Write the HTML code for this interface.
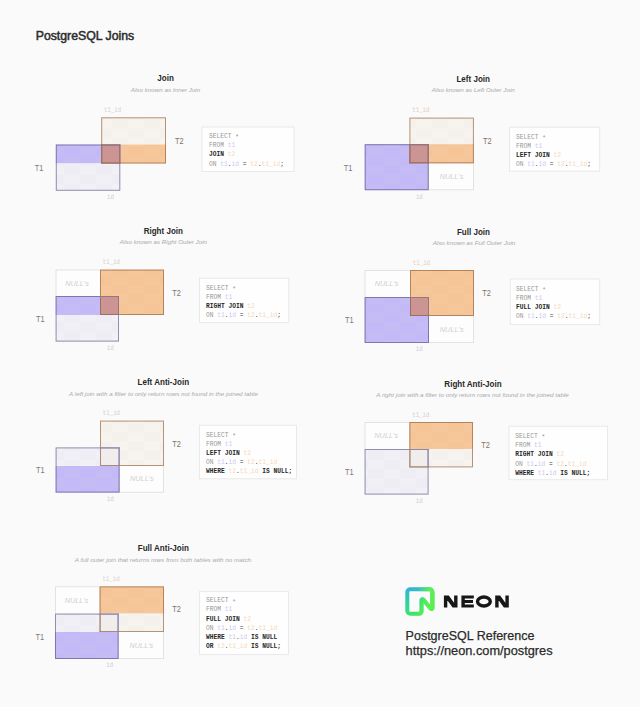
<!DOCTYPE html>
<html><head><meta charset="utf-8"><title>PostgreSQL Joins</title>
<style>
html,body{margin:0;padding:0;background:#fafafa;}
body{width:640px;height:707px;overflow:hidden;}
svg{display:block;}
text{font-family:"Liberation Sans",sans-serif;}
.h{font-weight:bold;font-size:9.1px;fill:#272727;text-anchor:middle;}
.s{font-style:italic;font-size:6.25px;fill:#a9a9a9;text-anchor:middle;}
.c{font-family:"Liberation Mono",monospace;font-size:6.25px;white-space:pre;}
.k{fill:#979797;}.b{fill:#262626;font-weight:bold;}.p{fill:#cdc8f2;}.o{fill:#f5d9bb;}.d{fill:#3a3a3a;}
.l{font-family:"Liberation Mono",monospace;font-size:5.75px;fill:#cdcdcd;}
.lo{fill:#dccfc3;}.lp{fill:#cdcbdc;}
.n{font-style:italic;font-size:7.3px;fill:#d0d0d0;text-anchor:middle;}
.t1{font-size:8.6px;fill:#7a7984;}
.t2{font-size:8.6px;fill:#7e7266;}
</style></head><body>
<svg width="640" height="707" viewBox="0 0 640 707">
<defs>
<linearGradient id="ng" x1="0" y1="0" x2="0.25" y2="1"><stop offset="0" stop-color="#34aee0"/><stop offset="0.5" stop-color="#2fd0a4"/><stop offset="1" stop-color="#3fe468"/></linearGradient>
<linearGradient id="ng2" x1="0" y1="0" x2="1" y2="0.15"><stop offset="0.4" stop-color="#5cf04c" stop-opacity="0"/><stop offset="0.85" stop-color="#5cf04c" stop-opacity="1"/></linearGradient>
<pattern id="ck" width="32" height="18.4" patternUnits="userSpaceOnUse"><rect x="0" y="0" width="16" height="9.2" fill="#000" fill-opacity="0.012"/><rect x="16" y="9.2" width="16" height="9.2" fill="#000" fill-opacity="0.012"/></pattern>
<pattern id="ckw" width="32" height="18.4" patternUnits="userSpaceOnUse"><rect x="16" y="0" width="16" height="9.2" fill="#fff" fill-opacity="0.04"/><rect x="0" y="9.2" width="16" height="9.2" fill="#fff" fill-opacity="0.04"/></pattern>
</defs>
<rect width="640" height="707" fill="#fafafa"/>
<text x="35.7" y="40.0" style="font-size:11.9px;fill:#2d2d2d;stroke:#2d2d2d;stroke-width:0.5px" textLength="98.5" lengthAdjust="spacingAndGlyphs">PostgreSQL Joins</text>
<!-- Join -->
<text class="h" transform="translate(165.6,80.5) scale(0.885,1)">Join</text>
<text class="s" x="165.5" y="91.7">Also known as Inner Join</text>
<rect x="101.20" y="117.30" width="64.80" height="27.20" fill="#f7f4f0"/>
<rect x="101.20" y="117.30" width="64.80" height="27.20" fill="url(#ck)"/>
<rect x="101.20" y="144.50" width="64.80" height="19.00" fill="#f5c597"/>
<rect x="101.20" y="144.50" width="64.80" height="19.00" fill="url(#ckw)"/>
<rect x="55.80" y="144.50" width="64.50" height="19.00" fill="#c3b9f6"/>
<rect x="55.80" y="144.50" width="64.50" height="19.00" fill="url(#ckw)"/>
<rect x="55.80" y="163.50" width="64.50" height="27.30" fill="#f1f0f7"/>
<rect x="55.80" y="163.50" width="64.50" height="27.30" fill="url(#ck)"/>
<rect x="101.20" y="144.50" width="19.10" height="19.00" fill="#cc9594"/>
<rect x="101.70" y="117.80" width="63.80" height="45.20" fill="none" stroke="rgba(150,100,60,0.68)" stroke-width="1"/>
<rect x="56.30" y="145.00" width="63.50" height="45.30" fill="none" stroke="rgba(70,68,112,0.56)" stroke-width="1"/>
<path d="M101.70 144.50V163.50M101.20 163.00H120.30" stroke="#9a7062" stroke-width="1" fill="none"/>
<path d="M119.80 144.50V163.50M101.20 145.00H120.30" stroke="#96757e" stroke-width="1" fill="none"/>
<text class="l lo" transform="translate(104.0,112.0) scale(1,1.15)">t1_id</text>
<text class="l lp" transform="translate(107.0,199.1) scale(1,1.15)">id</text>
<text class="t1" transform="translate(34.8,171.0) scale(0.86,1)">T1</text>
<text class="t2" transform="translate(175.1,143.7) scale(0.86,1)">T2</text>
<rect x="202.00" y="127.00" width="92.00" height="44.50" fill="#fefefe" stroke="#e7e7e7" stroke-width="0.9"/>
<text class="c" transform="translate(209.00,138.20) scale(1,1.18)" xml:space="preserve"><tspan class="k">SELECT </tspan><tspan class="k" dy="1.1">*</tspan></text>
<text class="c" transform="translate(209.00,147.30) scale(1,1.18)" xml:space="preserve"><tspan class="k">FROM </tspan><tspan class="p">t1</tspan></text>
<text class="c" transform="translate(209.00,156.40) scale(1,1.18)" xml:space="preserve"><tspan class="b">JOIN </tspan><tspan class="o">t2</tspan></text>
<text class="c" transform="translate(209.00,165.50) scale(1,1.18)" xml:space="preserve"><tspan class="k">ON </tspan><tspan class="p">t1</tspan><tspan class="d">.</tspan><tspan class="p">id</tspan><tspan class="d"> = </tspan><tspan class="o">t2</tspan><tspan class="d">.</tspan><tspan class="o">t1_id</tspan><tspan class="d">;</tspan></text>
<!-- Left Join -->
<text class="h" transform="translate(473.2,81.8) scale(0.885,1)">Left Join</text>
<text class="s" x="473.3" y="92.2">Also known as Left Outer Join</text>
<rect x="428.20" y="162.80" width="45.30" height="27.00" fill="#fdfdfd" stroke="#dcdcdc" stroke-width="0.8"/>
<text class="n" x="451.5" y="178.8">NULL's</text>
<rect x="409.40" y="117.60" width="64.50" height="26.60" fill="#f7f4f0"/>
<rect x="409.40" y="117.60" width="64.50" height="26.60" fill="url(#ck)"/>
<rect x="409.40" y="144.20" width="64.50" height="19.10" fill="#f5c597"/>
<rect x="409.40" y="144.20" width="64.50" height="19.10" fill="url(#ckw)"/>
<rect x="364.70" y="144.20" width="64.00" height="46.00" fill="#c3b9f6"/>
<rect x="364.70" y="144.20" width="64.00" height="46.00" fill="url(#ckw)"/>
<rect x="409.40" y="144.20" width="19.30" height="19.10" fill="#cc9594"/>
<rect x="409.90" y="118.10" width="63.50" height="44.70" fill="none" stroke="rgba(150,100,60,0.68)" stroke-width="1"/>
<rect x="365.20" y="144.70" width="63.00" height="45.00" fill="none" stroke="rgba(70,68,112,0.56)" stroke-width="1"/>
<path d="M409.90 144.20V163.30M409.40 162.80H428.70" stroke="#9a7062" stroke-width="1" fill="none"/>
<path d="M428.20 144.20V163.30M409.40 144.70H428.70" stroke="#96757e" stroke-width="1" fill="none"/>
<text class="l lo" transform="translate(412.2,112.3) scale(1,1.15)">t1_id</text>
<text class="l lp" transform="translate(415.9,198.5) scale(1,1.15)">id</text>
<text class="t1" transform="translate(343.7,170.7) scale(0.86,1)">T1</text>
<text class="t2" transform="translate(483.0,144.0) scale(0.86,1)">T2</text>
<rect x="509.50" y="127.20" width="90.20" height="44.00" fill="#fefefe" stroke="#e7e7e7" stroke-width="0.9"/>
<text class="c" transform="translate(516.00,138.50) scale(1,1.18)" xml:space="preserve"><tspan class="k">SELECT </tspan><tspan class="k" dy="1.1">*</tspan></text>
<text class="c" transform="translate(516.00,147.60) scale(1,1.18)" xml:space="preserve"><tspan class="k">FROM </tspan><tspan class="p">t1</tspan></text>
<text class="c" transform="translate(516.00,156.70) scale(1,1.18)" xml:space="preserve"><tspan class="b">LEFT JOIN </tspan><tspan class="o">t2</tspan></text>
<text class="c" transform="translate(516.00,165.80) scale(1,1.18)" xml:space="preserve"><tspan class="k">ON </tspan><tspan class="p">t1</tspan><tspan class="d">.</tspan><tspan class="p">id</tspan><tspan class="d"> = </tspan><tspan class="o">t2</tspan><tspan class="d">.</tspan><tspan class="o">t1_id</tspan><tspan class="d">;</tspan></text>
<!-- Right Join -->
<text class="h" transform="translate(163.3,234.2) scale(0.885,1)">Right Join</text>
<text class="s" x="163.4" y="244.2">Also known as Right Outer Join</text>
<rect x="56.00" y="270.00" width="44.50" height="26.50" fill="#fdfdfd" stroke="#dcdcdc" stroke-width="0.8"/>
<text class="n" x="77.0" y="285.8">NULL's</text>
<rect x="100.00" y="269.60" width="64.00" height="45.40" fill="#f5c597"/>
<rect x="100.00" y="269.60" width="64.00" height="45.40" fill="url(#ckw)"/>
<rect x="55.60" y="296.00" width="63.40" height="19.00" fill="#c3b9f6"/>
<rect x="55.60" y="296.00" width="63.40" height="19.00" fill="url(#ckw)"/>
<rect x="55.60" y="315.00" width="63.40" height="26.60" fill="#f1f0f7"/>
<rect x="55.60" y="315.00" width="63.40" height="26.60" fill="url(#ck)"/>
<rect x="100.00" y="296.00" width="19.00" height="19.00" fill="#cc9594"/>
<rect x="100.50" y="270.10" width="63.00" height="44.40" fill="none" stroke="rgba(150,100,60,0.68)" stroke-width="1"/>
<rect x="56.10" y="296.50" width="62.40" height="44.60" fill="none" stroke="rgba(70,68,112,0.56)" stroke-width="1"/>
<path d="M100.50 296.00V315.00M100.00 314.50H119.00" stroke="#9a7062" stroke-width="1" fill="none"/>
<path d="M118.50 296.00V315.00M100.00 296.50H119.00" stroke="#96757e" stroke-width="1" fill="none"/>
<text class="l lo" transform="translate(102.8,264.3) scale(1,1.15)">t1_id</text>
<text class="l lp" transform="translate(106.8,349.9) scale(1,1.15)">id</text>
<text class="t1" transform="translate(36.1,322.0) scale(0.86,1)">T1</text>
<text class="t2" transform="translate(172.3,295.6) scale(0.86,1)">T2</text>
<rect x="199.50" y="278.20" width="89.30" height="44.20" fill="#fefefe" stroke="#e7e7e7" stroke-width="0.9"/>
<text class="c" transform="translate(206.00,289.70) scale(1,1.18)" xml:space="preserve"><tspan class="k">SELECT </tspan><tspan class="k" dy="1.1">*</tspan></text>
<text class="c" transform="translate(206.00,298.80) scale(1,1.18)" xml:space="preserve"><tspan class="k">FROM </tspan><tspan class="p">t1</tspan></text>
<text class="c" transform="translate(206.00,307.90) scale(1,1.18)" xml:space="preserve"><tspan class="b">RIGHT JOIN </tspan><tspan class="o">t2</tspan></text>
<text class="c" transform="translate(206.00,317.00) scale(1,1.18)" xml:space="preserve"><tspan class="k">ON </tspan><tspan class="p">t1</tspan><tspan class="d">.</tspan><tspan class="p">id</tspan><tspan class="d"> = </tspan><tspan class="o">t2</tspan><tspan class="d">.</tspan><tspan class="o">t1_id</tspan><tspan class="d">;</tspan></text>
<!-- Full Join -->
<text class="h" transform="translate(473.4,234.7) scale(0.885,1)">Full Join</text>
<text class="s" x="474.0" y="244.7">Also known as Full Outer Join</text>
<rect x="428.50" y="315.50" width="45.10" height="27.10" fill="#fdfdfd" stroke="#dcdcdc" stroke-width="0.8"/>
<text class="n" x="451.7" y="331.6">NULL's</text>
<rect x="365.00" y="270.40" width="45.50" height="27.10" fill="#fdfdfd" stroke="#dcdcdc" stroke-width="0.8"/>
<text class="n" x="386.6" y="286.4">NULL's</text>
<rect x="410.00" y="270.00" width="64.00" height="46.00" fill="#f5c597"/>
<rect x="410.00" y="270.00" width="64.00" height="46.00" fill="url(#ckw)"/>
<rect x="364.60" y="297.00" width="64.40" height="46.00" fill="#c3b9f6"/>
<rect x="364.60" y="297.00" width="64.40" height="46.00" fill="url(#ckw)"/>
<rect x="410.00" y="297.00" width="19.00" height="19.00" fill="#cc9594"/>
<rect x="410.50" y="270.50" width="63.00" height="45.00" fill="none" stroke="rgba(150,100,60,0.68)" stroke-width="1"/>
<rect x="365.10" y="297.50" width="63.40" height="45.00" fill="none" stroke="rgba(70,68,112,0.56)" stroke-width="1"/>
<path d="M410.50 297.00V316.00M410.00 315.50H429.00" stroke="#9a7062" stroke-width="1" fill="none"/>
<path d="M428.50 297.00V316.00M410.00 297.50H429.00" stroke="#96757e" stroke-width="1" fill="none"/>
<text class="l lo" transform="translate(412.8,264.7) scale(1,1.15)">t1_id</text>
<text class="l lp" transform="translate(415.8,351.3) scale(1,1.15)">id</text>
<text class="t1" transform="translate(345.1,323.0) scale(0.86,1)">T1</text>
<text class="t2" transform="translate(482.3,296.0) scale(0.86,1)">T2</text>
<rect x="510.30" y="279.00" width="89.40" height="45.60" fill="#fefefe" stroke="#e7e7e7" stroke-width="0.9"/>
<text class="c" transform="translate(516.00,290.60) scale(1,1.18)" xml:space="preserve"><tspan class="k">SELECT </tspan><tspan class="k" dy="1.1">*</tspan></text>
<text class="c" transform="translate(516.00,299.70) scale(1,1.18)" xml:space="preserve"><tspan class="k">FROM </tspan><tspan class="p">t1</tspan></text>
<text class="c" transform="translate(516.00,308.80) scale(1,1.18)" xml:space="preserve"><tspan class="b">FULL JOIN </tspan><tspan class="o">t2</tspan></text>
<text class="c" transform="translate(516.00,317.90) scale(1,1.18)" xml:space="preserve"><tspan class="k">ON </tspan><tspan class="p">t1</tspan><tspan class="d">.</tspan><tspan class="p">id</tspan><tspan class="d"> = </tspan><tspan class="o">t2</tspan><tspan class="d">.</tspan><tspan class="o">t1_id</tspan><tspan class="d">;</tspan></text>
<!-- Left Anti-Join -->
<text class="h" transform="translate(163.3,385.2) scale(0.885,1)">Left Anti-Join</text>
<text class="s" x="163.5" y="395.9">A left join with a filter to only return rows not found in the joined table</text>
<rect x="119.10" y="465.50" width="44.50" height="26.70" fill="#fdfdfd" stroke="#dcdcdc" stroke-width="0.8"/>
<text class="n" x="141.9" y="481.4">NULL's</text>
<rect x="100.00" y="420.60" width="64.00" height="45.40" fill="#f7f4f0"/>
<rect x="100.00" y="420.60" width="64.00" height="45.40" fill="url(#ck)"/>
<rect x="55.60" y="447.40" width="64.00" height="18.60" fill="#f1f0f7"/>
<rect x="55.60" y="447.40" width="64.00" height="18.60" fill="url(#ck)"/>
<rect x="55.60" y="466.00" width="64.00" height="26.60" fill="#c3b9f6"/>
<rect x="55.60" y="466.00" width="64.00" height="26.60" fill="url(#ckw)"/>
<rect x="100.00" y="447.40" width="19.60" height="18.60" fill="#f0edec"/>
<rect x="100.50" y="421.10" width="63.00" height="44.40" fill="none" stroke="rgba(150,100,60,0.68)" stroke-width="1"/>
<rect x="56.10" y="447.90" width="63.00" height="44.20" fill="none" stroke="rgba(70,68,112,0.56)" stroke-width="1"/>
<path d="M100.50 447.40V466.00M100.00 465.50H119.60" stroke="#a98c78" stroke-width="1" fill="none"/>
<path d="M119.10 447.40V466.00M100.00 447.90H119.60" stroke="#8c88ae" stroke-width="1" fill="none"/>
<text class="l lo" transform="translate(102.8,415.3) scale(1,1.15)">t1_id</text>
<text class="l lp" transform="translate(106.8,500.9) scale(1,1.15)">id</text>
<text class="t1" transform="translate(36.1,473.4) scale(0.86,1)">T1</text>
<text class="t2" transform="translate(172.3,446.6) scale(0.86,1)">T2</text>
<rect x="199.40" y="425.30" width="97.10" height="53.50" fill="#fefefe" stroke="#e7e7e7" stroke-width="0.9"/>
<text class="c" transform="translate(206.00,436.50) scale(1,1.18)" xml:space="preserve"><tspan class="k">SELECT </tspan><tspan class="k" dy="1.1">*</tspan></text>
<text class="c" transform="translate(206.00,445.60) scale(1,1.18)" xml:space="preserve"><tspan class="k">FROM </tspan><tspan class="p">t1</tspan></text>
<text class="c" transform="translate(206.00,454.70) scale(1,1.18)" xml:space="preserve"><tspan class="b">LEFT JOIN </tspan><tspan class="o">t2</tspan></text>
<text class="c" transform="translate(206.00,463.80) scale(1,1.18)" xml:space="preserve"><tspan class="k">ON </tspan><tspan class="p">t1</tspan><tspan class="d">.</tspan><tspan class="p">id</tspan><tspan class="d"> = </tspan><tspan class="o">t2</tspan><tspan class="d">.</tspan><tspan class="o">t1_id</tspan></text>
<text class="c" transform="translate(206.00,472.90) scale(1,1.18)" xml:space="preserve"><tspan class="b">WHERE </tspan><tspan class="o">t2</tspan><tspan class="d">.</tspan><tspan class="o">t1_id</tspan><tspan class="b"> IS NULL;</tspan></text>
<!-- Right Anti-Join -->
<text class="h" transform="translate(473.0,386.9) scale(0.885,1)">Right Anti-Join</text>
<text class="s" x="472.5" y="397.4">A right join with a filter to only return rows not found in the joined table</text>
<rect x="365.00" y="422.40" width="44.90" height="27.10" fill="#fdfdfd" stroke="#dcdcdc" stroke-width="0.8"/>
<text class="n" x="386.2" y="438.4">NULL's</text>
<rect x="409.40" y="422.00" width="63.60" height="27.00" fill="#f5c597"/>
<rect x="409.40" y="422.00" width="63.60" height="27.00" fill="url(#ckw)"/>
<rect x="409.40" y="449.00" width="63.60" height="18.40" fill="#f7f4f0"/>
<rect x="409.40" y="449.00" width="63.60" height="18.40" fill="url(#ck)"/>
<rect x="364.60" y="449.00" width="64.00" height="45.60" fill="#f1f0f7"/>
<rect x="364.60" y="449.00" width="64.00" height="45.60" fill="url(#ck)"/>
<rect x="409.40" y="449.00" width="19.20" height="18.40" fill="#f0edec"/>
<rect x="409.90" y="422.50" width="62.60" height="44.40" fill="none" stroke="rgba(150,100,60,0.68)" stroke-width="1"/>
<rect x="365.10" y="449.50" width="63.00" height="44.60" fill="none" stroke="rgba(70,68,112,0.56)" stroke-width="1"/>
<path d="M409.90 449.00V467.40M409.40 466.90H428.60" stroke="#a98c78" stroke-width="1" fill="none"/>
<path d="M428.10 449.00V467.40M409.40 449.50H428.60" stroke="#8c88ae" stroke-width="1" fill="none"/>
<text class="l lo" transform="translate(412.2,416.7) scale(1,1.15)">t1_id</text>
<text class="l lp" transform="translate(415.8,502.9) scale(1,1.15)">id</text>
<text class="t1" transform="translate(345.1,475.0) scale(0.86,1)">T1</text>
<text class="t2" transform="translate(481.3,448.0) scale(0.86,1)">T2</text>
<rect x="509.00" y="426.20" width="98.50" height="53.50" fill="#fefefe" stroke="#e7e7e7" stroke-width="0.9"/>
<text class="c" transform="translate(515.25,438.20) scale(1,1.18)" xml:space="preserve"><tspan class="k">SELECT </tspan><tspan class="k" dy="1.1">*</tspan></text>
<text class="c" transform="translate(515.25,447.30) scale(1,1.18)" xml:space="preserve"><tspan class="k">FROM </tspan><tspan class="p">t1</tspan></text>
<text class="c" transform="translate(515.25,456.40) scale(1,1.18)" xml:space="preserve"><tspan class="b">RIGHT JOIN </tspan><tspan class="o">t2</tspan></text>
<text class="c" transform="translate(515.25,465.50) scale(1,1.18)" xml:space="preserve"><tspan class="k">ON </tspan><tspan class="p">t1</tspan><tspan class="d">.</tspan><tspan class="p">id</tspan><tspan class="d"> = </tspan><tspan class="o">t2</tspan><tspan class="d">.</tspan><tspan class="o">t1_id</tspan></text>
<text class="c" transform="translate(515.25,474.60) scale(1,1.18)" xml:space="preserve"><tspan class="b">WHERE </tspan><tspan class="p">t1</tspan><tspan class="d">.</tspan><tspan class="p">id</tspan><tspan class="b"> IS NULL;</tspan></text>
<!-- Full Anti-Join -->
<text class="h" transform="translate(163.3,551.2) scale(0.885,1)">Full Anti-Join</text>
<text class="s" x="163.8" y="561.9">A full outer join that returns rows from both tables with no match.</text>
<rect x="118.10" y="631.50" width="45.50" height="27.10" fill="#fdfdfd" stroke="#dcdcdc" stroke-width="0.8"/>
<text class="n" x="141.4" y="647.5">NULL's</text>
<rect x="55.40" y="586.80" width="44.70" height="27.30" fill="#fdfdfd" stroke="#dcdcdc" stroke-width="0.8"/>
<text class="n" x="76.5" y="603.0">NULL's</text>
<rect x="99.60" y="586.40" width="64.40" height="27.20" fill="#f5c597"/>
<rect x="99.60" y="586.40" width="64.40" height="27.20" fill="url(#ckw)"/>
<rect x="99.60" y="613.60" width="64.40" height="18.40" fill="#f7f4f0"/>
<rect x="99.60" y="613.60" width="64.40" height="18.40" fill="url(#ck)"/>
<rect x="55.00" y="613.60" width="63.60" height="18.40" fill="#f1f0f7"/>
<rect x="55.00" y="613.60" width="63.60" height="18.40" fill="url(#ck)"/>
<rect x="55.00" y="632.00" width="63.60" height="27.00" fill="#c3b9f6"/>
<rect x="55.00" y="632.00" width="63.60" height="27.00" fill="url(#ckw)"/>
<rect x="99.60" y="613.60" width="19.00" height="18.40" fill="#f0edec"/>
<rect x="100.10" y="586.90" width="63.40" height="44.60" fill="none" stroke="rgba(150,100,60,0.68)" stroke-width="1"/>
<rect x="55.50" y="614.10" width="62.60" height="44.40" fill="none" stroke="rgba(70,68,112,0.56)" stroke-width="1"/>
<path d="M100.10 613.60V632.00M99.60 631.50H118.60" stroke="#a98c78" stroke-width="1" fill="none"/>
<path d="M118.10 613.60V632.00M99.60 614.10H118.60" stroke="#8c88ae" stroke-width="1" fill="none"/>
<text class="l lo" transform="translate(102.4,581.1) scale(1,1.15)">t1_id</text>
<text class="l lp" transform="translate(106.2,667.3) scale(1,1.15)">id</text>
<text class="t1" transform="translate(35.5,639.6) scale(0.86,1)">T1</text>
<text class="t2" transform="translate(172.3,612.4) scale(0.86,1)">T2</text>
<rect x="199.40" y="591.60" width="89.00" height="63.00" fill="#fefefe" stroke="#e7e7e7" stroke-width="0.9"/>
<text class="c" transform="translate(206.00,602.30) scale(1,1.18)" xml:space="preserve"><tspan class="k">SELECT </tspan><tspan class="k" dy="1.1">*</tspan></text>
<text class="c" transform="translate(206.00,611.40) scale(1,1.18)" xml:space="preserve"><tspan class="k">FROM </tspan><tspan class="p">t1</tspan></text>
<text class="c" transform="translate(206.00,620.50) scale(1,1.18)" xml:space="preserve"><tspan class="b">FULL JOIN </tspan><tspan class="o">t2</tspan></text>
<text class="c" transform="translate(206.00,629.60) scale(1,1.18)" xml:space="preserve"><tspan class="k">ON </tspan><tspan class="p">t1</tspan><tspan class="d">.</tspan><tspan class="p">id</tspan><tspan class="d"> = </tspan><tspan class="o">t2</tspan><tspan class="d">.</tspan><tspan class="o">t1_id</tspan></text>
<text class="c" transform="translate(206.00,638.70) scale(1,1.18)" xml:space="preserve"><tspan class="b">WHERE </tspan><tspan class="p">t1</tspan><tspan class="d">.</tspan><tspan class="p">id</tspan><tspan class="b"> IS NULL</tspan></text>
<text class="c" transform="translate(206.00,647.80) scale(1,1.18)" xml:space="preserve"><tspan class="b">OR </tspan><tspan class="o">t2</tspan><tspan class="d">.</tspan><tspan class="o">t1_id</tspan><tspan class="b"> IS NULL;</tspan></text>
<!-- neon logo -->
<g transform="translate(405.3,587.3) scale(0.808,0.79)"><path fill-rule="evenodd" fill="url(#ng)" d="M0 6.207A6.207 6.207 0 0 1 6.207 0h23.586A6.207 6.207 0 0 1 36 6.207v20.06c0 3.546-4.488 5.085-6.664 2.286l-6.805-8.754v10.615A5.586 5.586 0 0 1 16.945 36H6.207A6.207 6.207 0 0 1 0 29.793V6.207Zm6.207-1.241c-.686 0-1.241.555-1.241 1.24v23.587c0 .686.555 1.242 1.241 1.242h10.924c.343 0 .434-.278.434-.621V16.18c0-3.547 4.488-5.086 6.665-2.286l6.805 8.753V6.207c0-.686.064-1.241-.621-1.241H6.207Z"/><path fill-rule="evenodd" fill="url(#ng2)" d="M0 6.207A6.207 6.207 0 0 1 6.207 0h23.586A6.207 6.207 0 0 1 36 6.207v20.06c0 3.546-4.488 5.085-6.664 2.286l-6.805-8.754v10.615A5.586 5.586 0 0 1 16.945 36H6.207A6.207 6.207 0 0 1 0 29.793V6.207Zm6.207-1.241c-.686 0-1.241.555-1.241 1.24v23.587c0 .686.555 1.242 1.241 1.242h10.924c.343 0 .434-.278.434-.621V16.18c0-3.547 4.488-5.086 6.665-2.286l6.805 8.753V6.207c0-.686.064-1.241-.621-1.241H6.207Z"/></g>
<path fill="#171717" d="M443.90 595.60H447.30V607.40H443.90ZM454.10 595.60H457.50V607.40H454.10ZM443.90 595.60H448.80L457.50 607.40H452.60ZM461.40 595.60H464.80V607.40H461.40ZM461.40 595.60H473.80V598.50H461.40ZM461.40 600.05H473.00V602.95H461.40ZM461.40 604.50H473.80V607.40H461.40ZM495.20 595.60H498.60V607.40H495.20ZM505.40 595.60H508.80V607.40H505.40ZM495.20 595.60H500.10L508.80 607.40H503.90Z"/>
<ellipse cx="483.9" cy="601.5" rx="6.38" ry="4.5" fill="none" stroke="#171717" stroke-width="3.4"/>
<text x="405.6" y="640.3" style="font-size:12.7px;fill:#2a2a2a;stroke:#2a2a2a;stroke-width:0.25px" textLength="128.8" lengthAdjust="spacingAndGlyphs">PostgreSQL Reference</text>
<text x="405.6" y="655.2" style="font-size:12.7px;fill:#2a2a2a;stroke:#2a2a2a;stroke-width:0.25px" textLength="147" lengthAdjust="spacingAndGlyphs">https://neon.com/postgres</text>
</svg>
</body></html>
